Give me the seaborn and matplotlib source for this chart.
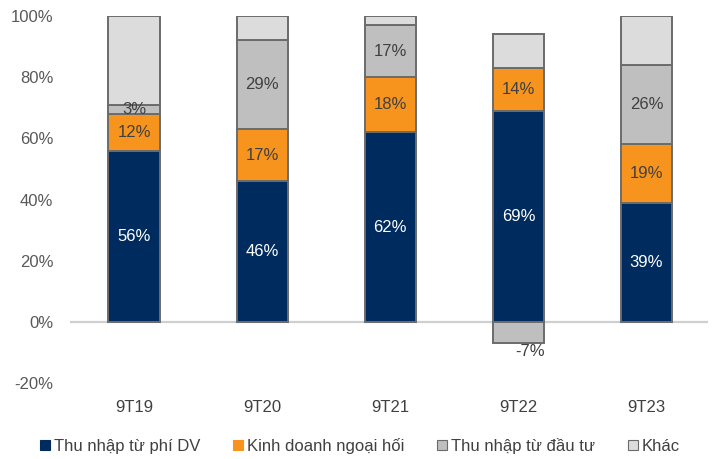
import numpy as np
import pandas as pd
import matplotlib
matplotlib.use("Agg")
import matplotlib.pyplot as plt
import seaborn as sns
from matplotlib.patches import Patch

periods = ["9T19", "9T20", "9T21", "9T22", "9T23"]
fee_income = [56, 46, 62, 69, 39]
fx_trading = [12, 17, 18, 14, 19]
investment = [3, 29, 17, -7, 26]
other = [29, 8, 3, 11, 16]
series_names = ["Thu nhập từ phí DV", "Kinh doanh ngoại hối", "Thu nhập từ đầu tư", "Khác"]
y_ticks = [-20, 0, 20, 40, 60, 80, 100]

colors = ["#002b5e", "#f7941d", "#bfbfbf", "#dcdcdc"]
label_colors = ["white", "#404040", "#404040", None]
edge_color = "#6b6b6b"

sns.set_theme(style="white")
plt.rcParams["font.family"] = ["Liberation Sans", "DejaVu Sans"]

fig = plt.figure(figsize=(7.2, 4.59), dpi=100)
ax = fig.add_axes([70 / 720, (459 - 383) / 459, 638 / 720, (383 - 16) / 459])

ax.axhline(0, color="#cfcfcf", lw=1.6, zorder=0.5)

pos_base = np.zeros(len(periods))
neg_base = np.zeros(len(periods))
for name, vals, col, lc in zip(series_names, [fee_income, fx_trading, investment, other],
                               colors, label_colors):
    vals = np.asarray(vals, dtype=float)
    bottoms = np.where(vals >= 0, pos_base, neg_base)
    df = pd.DataFrame({"period": periods, "value": vals})
    sns.barplot(data=df, x="period", y="value", bottom=bottoms, color=col,
                saturation=1, width=0.4, edgecolor=edge_color, linewidth=1.4,
                errorbar=None, ax=ax, zorder=2)
    if lc is not None:
        for i, (v, b) in enumerate(zip(vals, bottoms)):
            if v >= 0:
                ax.text(i, b + v / 2, f"{int(v)}%", ha="center", va="center",
                        color=lc, fontsize=12, zorder=3)
            else:
                ax.text(i + 0.09, b + v - 0.3, f"{int(v)}%", ha="center", va="top",
                        color=lc, fontsize=12, zorder=3)
    pos_base += np.clip(vals, 0, None)
    neg_base += np.clip(vals, None, 0)

ax.set_xlim(-0.5, 4.48)
ax.set_ylim(-20, 100)
ax.set_yticks(y_ticks)
ax.set_yticklabels([f"{t}%" for t in y_ticks])
ax.set_xlabel("")
ax.set_ylabel("")
for s in ax.spines.values():
    s.set_visible(False)
ax.tick_params(axis="y", length=0, pad=12, labelsize=12, labelcolor="#595959")
ax.tick_params(axis="x", length=0, pad=12, labelsize=12, labelcolor="#404040")

handles = [Patch(facecolor=c, edgecolor=edge_color if i >= 2 else c, linewidth=0.8)
           for i, c in enumerate(colors)]
fig.legend(handles, series_names, loc="center", bbox_to_anchor=(0.5, (459 - 446) / 459),
           ncol=4, frameon=False, fontsize=12, handlelength=0.6, handleheight=0.6,
           handletextpad=0.2, columnspacing=2.0, labelcolor="#404040")

fig.savefig("out.png", dpi=100)
